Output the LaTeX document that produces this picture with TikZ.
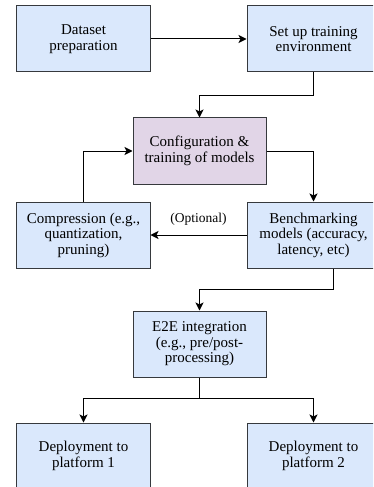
\documentclass[tikz,border=0pt]{standalone}
\usepackage{fontspec}
\setmainfont{Liberation Serif}
\usepackage{xcolor}
\usepackage{tikz}
\usetikzlibrary{arrows.meta, positioning}
\definecolor{boxblue}{HTML}{DAE8FC}
\definecolor{boxpurple}{HTML}{E1D5E7}
\definecolor{boxline}{HTML}{36393D}
\tikzset{
    process/.style={
        rectangle,
        draw=boxline,
        line width=1pt,
        minimum width=133pt,
        minimum height=66pt,
        fill=boxblue,
        align=center,
        inner sep=2pt,
        font=\fontsize{15}{15.5}\selectfont
    },
    training/.style={
        process,
        fill=boxpurple
    },
    wire/.style={
        draw=black,
        line width=1pt,
        -{Stealth[length=8pt, width=8pt, inset=2pt]}
    },
    optlabel/.style={
        font=\fontsize{13.5}{14}\selectfont,
        inner sep=1pt
    }
}
\begin{document}
\begin{tikzpicture}

% Frame
\useasboundingbox (-83.5pt,39pt) rectangle (289.5pt,-448pt);
\clip (-83.5pt,39pt) rectangle (289.5pt,-448pt);

% Preparation
\node[process] (data) {Dataset\\preparation};
\node[process, right=96pt of data] (setup) {Set up training\\environment};

% Training loop
\node[training, below=45pt of data, xshift=116pt] (config) {Configuration \&\\training of models};
\node[process, below=17pt of config, xshift=-116pt] (compress) {Compression (e.g.,\\quantization,\\pruning)};
\node[process, right=96pt of compress] (bench) {Benchmarking\\models (accuracy,\\latency, etc)};

% Integration and deployment
\node[process, below=42pt of compress, xshift=116pt] (e2e) {E2E integration\\(e.g., pre/post-\\processing)};
\node[process, below=45pt of e2e, xshift=-116pt] (deploy1) {Deployment to\\platform 1};
\node[process, right=96pt of deploy1] (deploy2) {Deployment to\\platform 2};

\draw[wire] (data) -- (setup);
\draw[wire] (setup.south) -- ++(0,-23pt) -| (config.north);
\draw[wire] (config.east) -| (bench.north);
\draw[wire] (bench.west) -- (compress.east) node[optlabel, midway, above=8pt] (opt) {(Optional)};
\draw[wire] (compress.north) |- (config.west);
\draw[wire] ([xshift=20pt]bench.south) -- ++(0,-21pt) -| (e2e.north);
\draw[wire] (e2e.south) -- ++(0,-21pt) -| (deploy1.north);
\draw[wire] (e2e.south) -- ++(0,-21pt) -| (deploy2.north);

\end{tikzpicture}
\end{document}
